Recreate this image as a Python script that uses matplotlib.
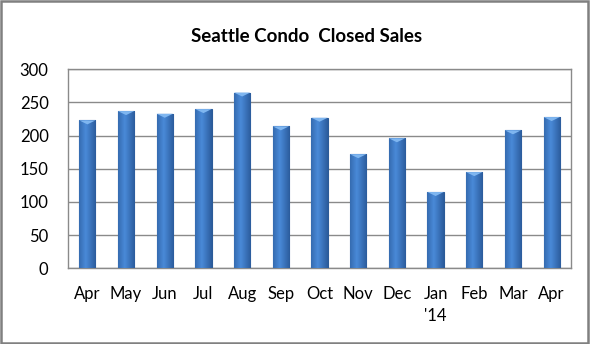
import matplotlib
matplotlib.use("Agg")
import matplotlib.pyplot as plt
import numpy as np
from matplotlib.patches import Rectangle
from matplotlib.colors import LinearSegmentedColormap

months = ["Apr", "May", "Jun", "Jul", "Aug", "Sep", "Oct", "Nov", "Dec", "Jan\n'14", "Feb", "Mar", "Apr"]
sales = [223, 237, 233, 240, 265, 214, 227, 172, 196, 115, 145, 208, 228]
yticks = [0, 50, 100, 150, 200, 250, 300]
title = "Seattle Condo  Closed Sales"

plt.rcParams['font.family'] = ['Lato', 'DejaVu Sans']

fig = plt.figure(figsize=(5.9, 3.44), dpi=100)
ax = fig.add_axes([0.1153, 0.220, 0.8525, 0.5785])

x = np.arange(len(months))
bars = ax.bar(x, sales, width=0.42, color='#3c78c4', edgecolor='#2b5b98', linewidth=0.8, zorder=3)

# horizontal gradient inside each bar
grad = np.linspace(0, 1, 64)
prof = np.clip(1 - np.abs(grad - 0.4) * 1.6, 0, 1)
cmap = LinearSegmentedColormap.from_list('b', ['#2a5a9a', '#4a8ad8'])
for b in bars:
    x0, w, h = b.get_x(), b.get_width(), b.get_height()
    im = ax.imshow(prof[np.newaxis, :], extent=[x0, x0 + w, 0, h], aspect='auto',
                   cmap=cmap, vmin=0, vmax=1, zorder=3.5, interpolation='bilinear')
    im.set_clip_path(b)
    ax.fill([x0, x0 + w, x0 + w / 2], [h, h, h - 6], color='#7fb6f0', zorder=4, lw=0)

ax.set_xlim(-0.5, len(months) - 0.5)
ax.set_ylim(0, 300)
ax.set_yticks(yticks)
ax.set_xticks(x)
ax.set_xticklabels(months)
ax.tick_params(axis='both', length=0, labelsize=12, colors='black')
ax.tick_params(axis='y', pad=14)
ax.tick_params(axis='x', pad=13)
for lbl in ax.get_xticklabels():
    lbl.set_linespacing(1.45)
ax.grid(axis='y', color='#8a8a8a', linewidth=1.0, zorder=0)
for s in ax.spines.values():
    s.set_color('#8a8a8a')
    s.set_linewidth(1.0)

fig.text(0.52, 0.895, title, ha='center', va='center', fontsize=13.5, fontweight='bold')

fig.patches.append(Rectangle((0.002, 0.004), 0.994, 0.992, transform=fig.transFigure,
                             fill=False, edgecolor='#808080', linewidth=1.8))

fig.savefig("out.png", dpi=100)
